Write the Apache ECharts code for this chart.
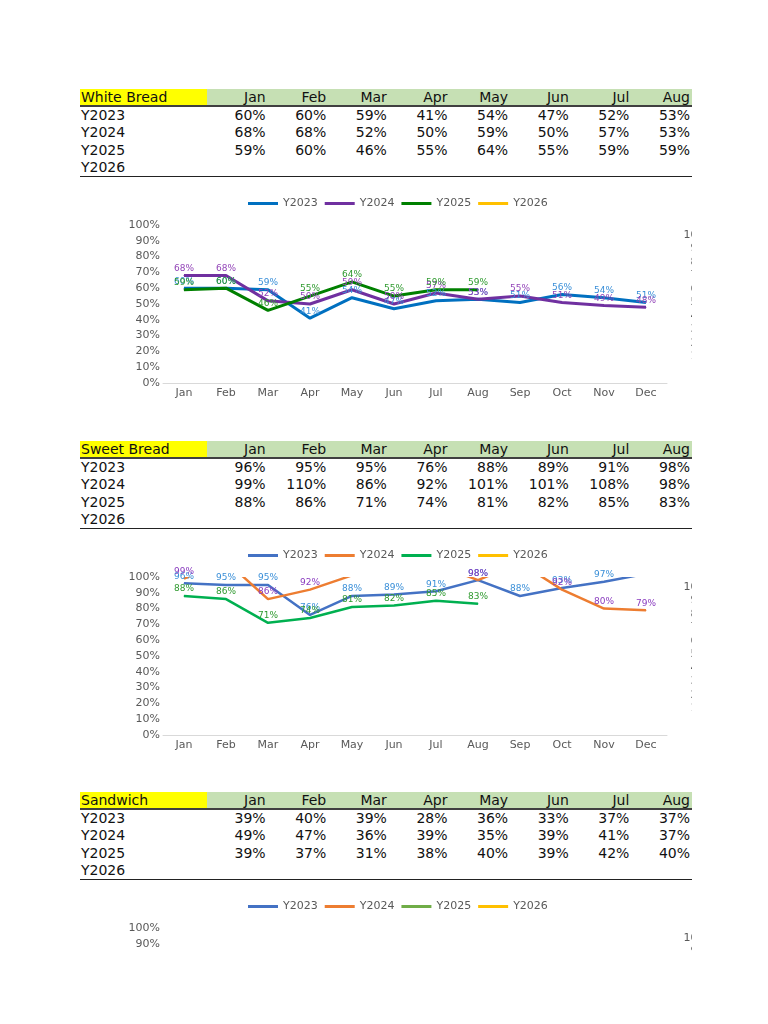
<!DOCTYPE html>
<html>
<head>
<meta charset="utf-8">
<title>Bread sell-through</title>
<script src="https://cdn.jsdelivr.net/npm/echarts@6.0.0/dist/echarts.min.js"></script>
<style>
  body { margin: 0; width: 768px; height: 1024px; background: #fff; position: relative; overflow: hidden;
         font-family: "DejaVu Sans", sans-serif; }
  .sheet { position: absolute; left: 80px; width: 612px; font-size: 14px; color: #111; }
  .sheet .row { display: flex; height: 17.33px; line-height: 17.33px; white-space: nowrap; }
  .sheet .row.head { height: 16px; line-height: 16px; background: #c6e0b4; border-bottom: 2px solid #404040; }
  .sheet .row.last { border-bottom: 1.5px solid #222; }
  .sheet .c0 { width: 127px; padding-left: 1px; box-sizing: border-box; }
  .sheet .head .c0 { background: #ffff00; }
  .sheet .c { width: 60.625px; text-align: right; padding-right: 2px; box-sizing: border-box; }
  .chart-box { position: absolute; left: 0; width: 692px; overflow: hidden; }
  .chart { width: 768px; height: 230px; }
</style>
</head>
<body>
<div id="page"></div>
<script>
// 月份 / 年份
var months = ['Jan', 'Feb', 'Mar', 'Apr', 'May', 'Jun', 'Jul', 'Aug', 'Sep', 'Oct', 'Nov', 'Dec'];
var years = ['Y2023', 'Y2024', 'Y2025', 'Y2026'];
var tableMonths = 8; // 表格只显示 Jan-Aug

// White Bread (%)
var whiteY2023 = [60, 60, 59, 41, 54, 47, 52, 53, 51, 56, 54, 51];
var whiteY2024 = [68, 68, 52, 50, 59, 50, 57, 53, 55, 51, 49, 48];
var whiteY2025 = [59, 60, 46, 55, 64, 55, 59, 59, null, null, null, null];
var whiteY2026 = [null, null, null, null, null, null, null, null, null, null, null, null];

// Sweet Bread (%)
var sweetY2023 = [96, 95, 95, 76, 88, 89, 91, 98, 88, 93, 97, 102];
var sweetY2024 = [99, 110, 86, 92, 101, 101, 108, 98, 109, 92, 80, 79];
var sweetY2025 = [88, 86, 71, 74, 81, 82, 85, 83, null, null, null, null];
var sweetY2026 = [null, null, null, null, null, null, null, null, null, null, null, null];

// Sandwich (%)
var sandY2023 = [39, 40, 39, 28, 36, 33, 37, 37, null, null, null, null];
var sandY2024 = [49, 47, 36, 39, 35, 39, 41, 37, null, null, null, null];
var sandY2025 = [39, 37, 31, 38, 40, 39, 42, 40, null, null, null, null];
var sandY2026 = [null, null, null, null, null, null, null, null, null, null, null, null];

// 各区块配置
var sections = [{
  name: 'White Bread',
  top: 89,
  data: [whiteY2023, whiteY2024, whiteY2025, whiteY2026],
  lineColors: ['#0070c0', '#7030a0', '#008000', '#ffc000'],
  labelColors: ['#3a8fd8', '#9345b8', '#2f9a2f', '#ffc000'],
  lineWidth: 3,
  clipHeight: 230
}, {
  name: 'Sweet Bread',
  top: 441,
  data: [sweetY2023, sweetY2024, sweetY2025, sweetY2026],
  lineColors: ['#4472c4', '#ed7d31', '#00b050', '#ffc000'],
  labelColors: ['#3a8fd8', '#8a3cbf', '#2f9a2f', '#ffc000'],
  lineWidth: 2.5,
  clipHeight: 230
}, {
  name: 'Sandwich',
  top: 792,
  data: [sandY2023, sandY2024, sandY2025, sandY2026],
  lineColors: ['#4472c4', '#ed7d31', '#70ad47', '#ffc000'],
  labelColors: ['#3a8fd8', '#8a3cbf', '#2f9a2f', '#ffc000'],
  lineWidth: 2.5,
  clipHeight: 63
}];

var chartH = 230;
var gridTop = 40;

var page = document.getElementById('page');

// 表格
function buildTable(sec) {
  var html = '<div class="sheet" style="top:' + sec.top + 'px">';
  html += '<div class="row head"><div class="c0">' + sec.name + '</div>';
  for (var m = 0; m < tableMonths; m++) {
    html += '<div class="c">' + months[m] + '</div>';
  }
  html += '</div>';
  years.forEach(function (y, i) {
    html += '<div class="row' + (i === years.length - 1 ? ' last' : '') + '"><div class="c0">' + y + '</div>';
    for (var m = 0; m < tableMonths; m++) {
      var v = sec.data[i][m];
      html += '<div class="c">' + (v == null ? '' : v + '%') + '</div>';
    }
    html += '</div>';
  });
  html += '</div>';
  return html;
}

// 线条颜色：网格顶端（100%）以上透明，模拟表格软件的裁剪
function clippedColor(color) {
  var cut = (gridTop - 0.5) / chartH;
  return {
    type: 'linear', x: 0, y: 0, x2: 0, y2: chartH, global: true,
    colorStops: [
      { offset: 0, color: 'rgba(0,0,0,0)' },
      { offset: cut, color: 'rgba(0,0,0,0)' },
      { offset: cut, color: color },
      { offset: 1, color: color }
    ]
  };
}

// 折线图
function buildOption(sec) {
  var axisText = { color: '#595959', fontSize: 11, fontFamily: 'DejaVu Sans' };
  var series = years.map(function (y, i) {
    return {
      name: y,
      type: 'line',
      data: sec.data[i],
      symbol: 'circle',
      symbolSize: 1,
      clip: true,
      itemStyle: { color: sec.lineColors[i] },
      lineStyle: { width: sec.lineWidth, color: clippedColor(sec.lineColors[i]) },
      label: {
        show: true,
        position: 'top',
        distance: 2,
        fontSize: 9,
        fontFamily: 'DejaVu Sans',
        color: sec.labelColors[i],
        formatter: function (p) {
          // 超出 100% 的点不显示标签
          return p.value > 100 ? '' : p.value + '%';
        }
      },
      emphasis: { disabled: true },
      xAxisIndex: 0,
      yAxisIndex: 0
    };
  });
  return {
    animation: false,
    legend: {
      data: years,
      left: 243,
      top: 8,
      icon: 'rect',
      itemWidth: 30,
      itemHeight: 3,
      itemGap: 7,
      textStyle: axisText
    },
    grid: [
      { left: 163, top: gridTop, width: 504, height: 158 },
      { left: 723, top: 50, width: 20, height: 135 }
    ],
    xAxis: [{
      type: 'category',
      data: months,
      gridIndex: 0,
      axisLine: { lineStyle: { color: '#d9d9d9' } },
      axisTick: { show: false },
      axisLabel: Object.assign({ margin: 5 }, axisText)
    }, {
      type: 'category',
      data: months,
      gridIndex: 1,
      show: false
    }],
    yAxis: [{
      type: 'value',
      gridIndex: 0,
      min: 0,
      max: 100,
      interval: 10,
      splitLine: { show: false },
      axisLine: { show: false },
      axisLabel: Object.assign({ margin: 3, formatter: '{value}%' }, axisText)
    }, {
      // 右侧被截断的坐标轴
      type: 'value',
      gridIndex: 1,
      min: 0,
      max: 100,
      interval: 10,
      splitLine: { show: false },
      axisLine: { show: false },
      axisLabel: Object.assign({ margin: 8, formatter: '{value}%' }, axisText)
    }],
    series: series
  };
}

sections.forEach(function (sec) {
  page.insertAdjacentHTML('beforeend', buildTable(sec));
  var box = document.createElement('div');
  box.className = 'chart-box';
  box.style.top = (sec.top + 96) + 'px';
  box.style.height = sec.clipHeight + 'px';
  var el = document.createElement('div');
  el.className = 'chart';
  el.style.height = chartH + 'px';
  box.appendChild(el);
  page.appendChild(box);
  var chart = echarts.init(el);
  chart.setOption(buildOption(sec));
});
</script>
</body>
</html>
